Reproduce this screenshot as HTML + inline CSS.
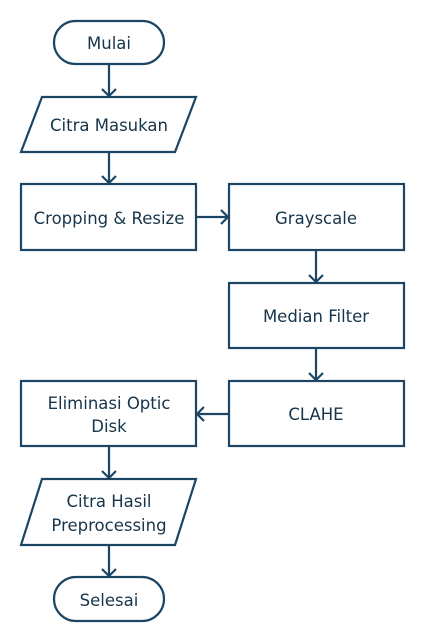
<!DOCTYPE html>
<html><head><meta charset="utf-8"><style>
html,body{margin:0;padding:0;background:#fff;}
svg{display:block;}
</style></head><body>
<svg width="425" height="643" viewBox="0 0 425 643" xmlns="http://www.w3.org/2000/svg">
<g fill="none" stroke="#1c4664" stroke-width="2.2">
<rect x="54" y="21" width="110" height="43" rx="21.5"/>
<polygon points="42,97 196,97 175,152 21,152"/>
<rect x="21" y="184" width="175" height="66"/>
<rect x="229" y="184" width="175" height="66"/>
<rect x="229" y="283" width="175" height="65"/>
<rect x="229" y="381" width="175" height="65"/>
<rect x="21" y="381" width="175" height="65"/>
<polygon points="42,479 196,479 175,545 21,545"/>
<rect x="54" y="577" width="110" height="44" rx="22"/>
<path d="M109 64V96M102 89L109 96L116 89"/>
<path d="M109 152V183M102 176L109 183L116 176"/>
<path d="M196 217H228M221 210L228 217L221 224"/>
<path d="M316 250V282M309 275L316 282L323 275"/>
<path d="M316 348V380M309 373L316 380L323 373"/>
<path d="M229 414H197M204 407L197 414L204 421"/>
<path d="M109 446V478M102 471L109 478L116 471"/>
<path d="M109 545V576M102 569L109 576L116 569"/>
</g>
<g font-family="DejaVu Sans, Liberation Sans, sans-serif" font-size="16.5" fill="#16354a" text-anchor="middle" style="font-size:16.5px">
<text x="109" y="49">Mulai</text>
<text x="109" y="131">Citra Masukan</text>
<text x="109" y="224">Cropping &amp; Resize</text>
<text x="316" y="224">Grayscale</text>
<text x="316" y="322">Median Filter</text>
<text x="316" y="420">CLAHE</text>
<text x="109" y="409">Eliminasi Optic</text>
<text x="109" y="432">Disk</text>
<text x="109" y="507">Citra Hasil</text>
<text x="109" y="531">Preprocessing</text>
<text x="109" y="606">Selesai</text>
</g>
</svg>
</body></html>
